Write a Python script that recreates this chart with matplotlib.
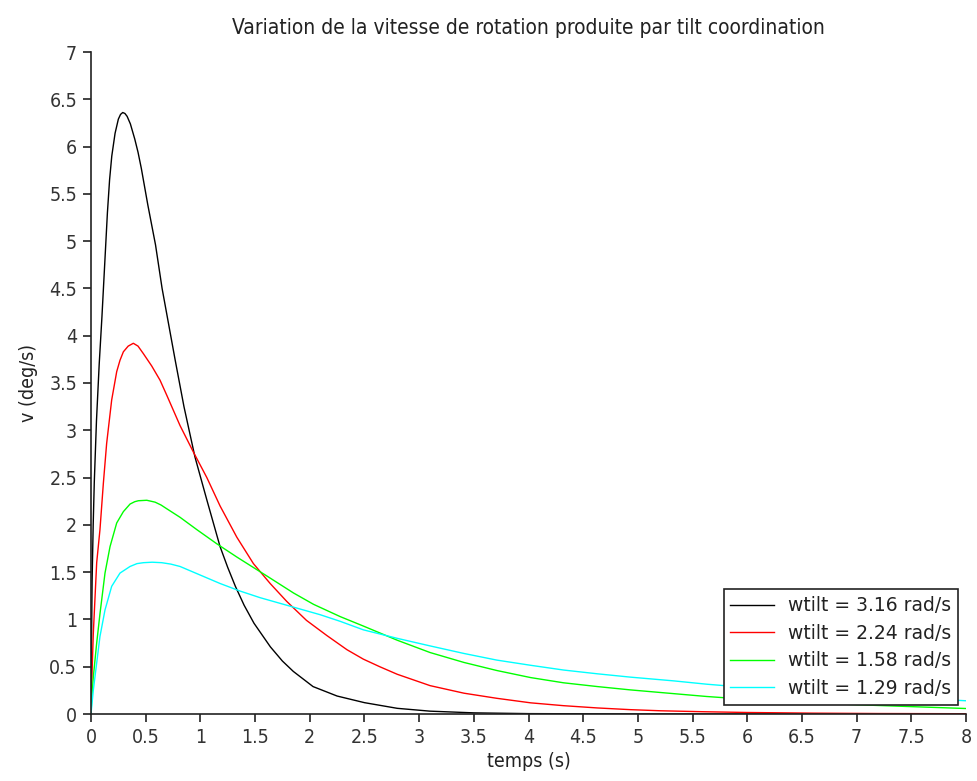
import matplotlib
matplotlib.use("Agg")
import matplotlib.pyplot as plt

plt.rcParams['font.family'] = ['DejaVu Sans']
plt.rcParams['font.stretch'] = 'condensed'

title = "Variation de la vitesse de rotation produite par tilt coordination"
xlabel = "temps (s)"
ylabel = "v (deg/s)"
labels = ["wtilt = 3.16 rad/s", "wtilt = 2.24 rad/s", "wtilt = 1.58 rad/s", "wtilt = 1.29 rad/s"]
colors = ["#000000", "#ff0000", "#00ff00", "#00ffff"]

t_black = [0, 0.005, 0.01, 0.02, 0.03, 0.05, 0.075, 0.1, 0.125, 0.15, 0.17, 0.19, 0.22, 0.25, 0.27, 0.29,
           0.31, 0.33, 0.36, 0.40, 0.43, 0.46, 0.52, 0.59, 0.65, 0.71, 0.77, 0.85, 0.95, 1.06, 1.18,
           1.25, 1.32, 1.40, 1.49, 1.64, 1.75, 1.85, 2.03, 2.25, 2.5, 2.8, 3.1, 3.5, 4.0, 5.0, 8.0]
v_black = [0, 0.8, 1.4, 2.0, 2.45, 3.1, 3.7, 4.2, 4.75, 5.3, 5.65, 5.9, 6.14, 6.29, 6.34, 6.36,
           6.35, 6.32, 6.24, 6.08, 5.94, 5.77, 5.38, 4.96, 4.5, 4.12, 3.74, 3.25, 2.72, 2.26, 1.77,
           1.55, 1.35, 1.15, 0.96, 0.71, 0.56, 0.45, 0.29, 0.19, 0.12, 0.06, 0.03, 0.012, 0.004, 0.0005, 0.0]

t_red = [0, 0.01, 0.021, 0.052, 0.082, 0.113, 0.143, 0.189, 0.235, 0.265, 0.296, 0.34, 0.387, 0.43,
         0.479, 0.555, 0.631, 0.693, 0.814, 0.936, 1.059, 1.18, 1.333, 1.485, 1.638, 1.79, 1.97, 2.156,
         2.34, 2.49, 2.64, 2.80, 3.10, 3.41, 3.71, 4.02, 4.32, 4.63, 4.93, 5.21, 5.6, 6.0, 6.6, 7.2, 8.0]
v_red = [0, 0.45, 0.85, 1.6, 1.95, 2.44, 2.86, 3.32, 3.62, 3.74, 3.83, 3.89, 3.92, 3.89,
         3.81, 3.68, 3.53, 3.37, 3.05, 2.77, 2.50, 2.20, 1.87, 1.59, 1.38, 1.19, 0.99, 0.83,
         0.68, 0.58, 0.50, 0.42, 0.30, 0.22, 0.166, 0.118, 0.088, 0.064, 0.046, 0.034, 0.024, 0.016,
         0.009, 0.005, 0.003]

t_green = [0, 0.006, 0.021, 0.052, 0.082, 0.128, 0.174, 0.235, 0.296, 0.357, 0.40, 0.433, 0.51, 0.586,
           0.64, 0.693, 0.814, 0.967, 1.15, 1.333, 1.607, 1.851, 2.034, 2.278, 2.49, 2.80, 3.10, 3.41,
           3.71, 4.02, 4.32, 4.63, 4.93, 5.33, 5.63, 6.0, 6.5, 7.0, 7.5, 8.0]
v_green = [0, 0.15, 0.39, 0.75, 1.06, 1.49, 1.77, 2.02, 2.14, 2.22, 2.245, 2.255, 2.26, 2.24,
           2.21, 2.17, 2.08, 1.95, 1.80, 1.66, 1.46, 1.28, 1.16, 1.03, 0.93, 0.78, 0.65, 0.545,
           0.46, 0.385, 0.33, 0.29, 0.255, 0.215, 0.185, 0.155, 0.125, 0.098, 0.078, 0.058]

t_cyan = [0, 0.021, 0.052, 0.082, 0.128, 0.189, 0.265, 0.357, 0.42, 0.479, 0.56, 0.647, 0.73, 0.814,
          0.997, 1.18, 1.363, 1.546, 1.729, 1.912, 2.095, 2.278, 2.49, 2.80, 3.10, 3.41, 3.71, 4.02,
          4.32, 4.63, 4.93, 5.33, 5.63, 6.0, 6.5, 7.0, 7.5, 8.0]
v_cyan = [0, 0.25, 0.54, 0.82, 1.10, 1.35, 1.49, 1.56, 1.59, 1.60, 1.605, 1.60, 1.585, 1.56,
          1.47, 1.38, 1.30, 1.23, 1.17, 1.11, 1.05, 0.98, 0.89, 0.80, 0.72, 0.64, 0.57, 0.515,
          0.465, 0.425, 0.39, 0.35, 0.315, 0.28, 0.24, 0.205, 0.17, 0.14]

xticks = [0, 0.5, 1, 1.5, 2, 2.5, 3, 3.5, 4, 4.5, 5, 5.5, 6, 6.5, 7, 7.5, 8]
yticks = [0, 0.5, 1, 1.5, 2, 2.5, 3, 3.5, 4, 4.5, 5, 5.5, 6, 6.5, 7]

fig = plt.figure(figsize=(9.77, 7.81), dpi=100)
ax = fig.add_axes([91/977, 67/781, 875/977, 662/781])

series = [(t_black, v_black), (t_red, v_red), (t_green, v_green), (t_cyan, v_cyan)]
for (t, v), c, lab in zip(series, colors, labels):
    ax.plot(t, v, color=c, lw=1.0, label=lab)

ax.set_xlim(0, 8)
ax.set_ylim(0, 7)
ax.set_xticks(xticks)
ax.set_xticklabels([f"{x:g}" for x in xticks])
ax.set_yticks(yticks)
ax.set_yticklabels([f"{y:g}" for y in yticks])
ax.spines['top'].set_visible(False)
ax.spines['right'].set_visible(False)
for s in ('left', 'bottom'):
    ax.spines[s].set_color('#222222')
    ax.spines[s].set_linewidth(1.2)
ax.tick_params(direction='out', length=6, width=1.2, color='#222222', labelsize=14,
               labelcolor='#333333', pad=4)

ax.set_title(title, fontsize=15, color='#222222', pad=13)
ax.set_xlabel(xlabel, fontsize=14, color='#222222', labelpad=4)
ax.set_ylabel(ylabel, fontsize=14, color='#222222', labelpad=8)

leg = ax.legend(loc='lower right', bbox_to_anchor=(0.9914, 0.014), fontsize=13.5, frameon=True,
                fancybox=False, edgecolor='#222222', framealpha=1, handlelength=2.35,
                handletextpad=0.75, borderpad=0.36, labelspacing=0.46, borderaxespad=0)
leg.get_frame().set_linewidth(1.2)
for txt in leg.get_texts():
    txt.set_fontstretch('normal')
    txt.set_color('#222222')

fig.savefig("out.png", dpi=100)
